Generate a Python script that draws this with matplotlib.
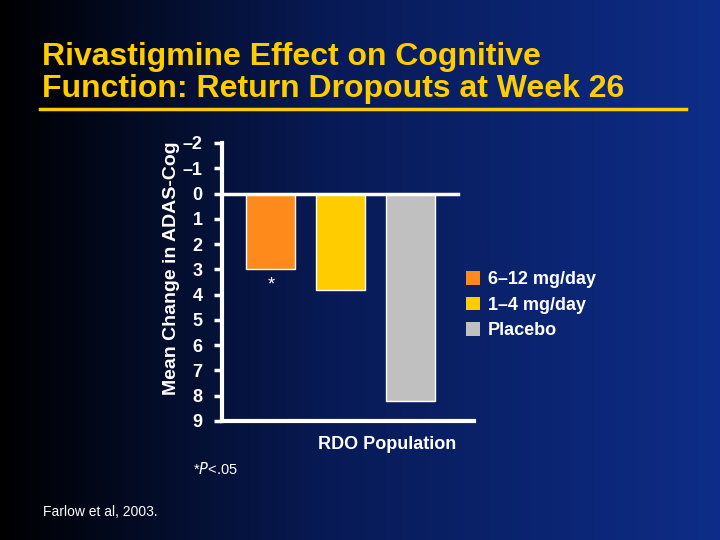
""" Rivastigmine ADAS-Cog bar chart, slide style. """

import numpy as np
import matplotlib.pyplot as plt
from matplotlib.colors import LinearSegmentedColormap

groups = ['6\u201312 mg/day', '1\u20134 mg/day', 'Placebo']
changes = [3.0, 3.8, 8.2]
colors = ['#FF8A1C', '#FFCC00', '#C0C0C0']
yticks = list(range(-2, 10))
ytick_labels = ['\u20132', '\u20131'] + [str(t) for t in range(0, 10)]

plt.rcParams['font.family'] = ['Liberation Sans', 'DejaVu Sans']

fig = plt.figure(figsize=(7.2, 5.4), dpi=100)

# horizontal gradient: black on the left, navy blue on the right
bg = fig.add_axes([0, 0, 1, 1])
cmap = LinearSegmentedColormap.from_list(
    'slide', [(0.0, '#000000'), (0.45, '#081a55'), (1.0, '#0e2d88')])
bg.imshow(np.linspace(0, 1, 256).reshape(1, -1), cmap=cmap,
          aspect='auto', extent=[0, 1, 0, 1])
bg.set_axis_off()

fig.text(0.058, 0.865, 'Rivastigmine Effect on Cognitive\nFunction: Return Dropouts at Week 26',
         color='#FFCC00', fontsize=23, fontweight='bold', linespacing=1.12, va='center')
fig.add_artist(plt.Line2D([0.055, 0.953], [0.798, 0.798], color='#FFCC00', lw=2.5))

ax = fig.add_axes([0.3083, 0.2204, 0.35, 0.5148])
ax.patch.set_alpha(0)
x = np.arange(len(changes))
ax.bar(x, changes, width=0.7, color=colors, edgecolor='white', linewidth=1, zorder=3)
ax.axhline(0, xmax=0.937, color='white', lw=2.5, zorder=4)
ax.text(x[0], changes[0] + 0.3, '*', color='white', fontsize=13,
        ha='center', va='top')

ax.set_xlim(-0.7, 2.9)
ax.set_ylim(9, -2)
ax.set_yticks(yticks)
ax.set_yticklabels(ytick_labels)
ax.set_xticks([])
ax.tick_params(axis='y', colors='white', labelsize=13, length=6, width=2.5, pad=8)
for lab in ax.get_yticklabels():
    lab.set_fontweight('bold')
for side in ['top', 'right']:
    ax.spines[side].set_visible(False)
for side in ['left', 'bottom']:
    ax.spines[side].set_color('white')
    ax.spines[side].set_linewidth(3)
ax.set_ylabel('Mean Change in ADAS-Cog', color='white', fontsize=14,
              fontweight='bold')
ax.yaxis.set_label_coords(-0.165, 0.548)
ax.set_xlabel('RDO Population', color='white', fontsize=13, fontweight='bold')
ax.xaxis.set_label_coords(0.655, -0.055)

handles = [plt.Rectangle((0, 0), 1, 1, facecolor=c, edgecolor='none') for c in colors]
leg = fig.legend(handles, groups, loc='center left', bbox_to_anchor=(0.634, 0.435),
                 frameon=False, handlelength=0.8, handleheight=0.8,
                 handletextpad=0.45, labelspacing=0.45, borderpad=0,
                 prop={'size': 13, 'weight': 'bold'})
for t in leg.get_texts():
    t.set_color('white')

fig.text(0.268, 0.132, '*$\\it{P}$<.05', color='white', fontsize=10.5, va='center')
fig.text(0.06, 0.052, 'Farlow et al, 2003.', color='white', fontsize=10, va='center')

fig.savefig('out.png', dpi=100)
